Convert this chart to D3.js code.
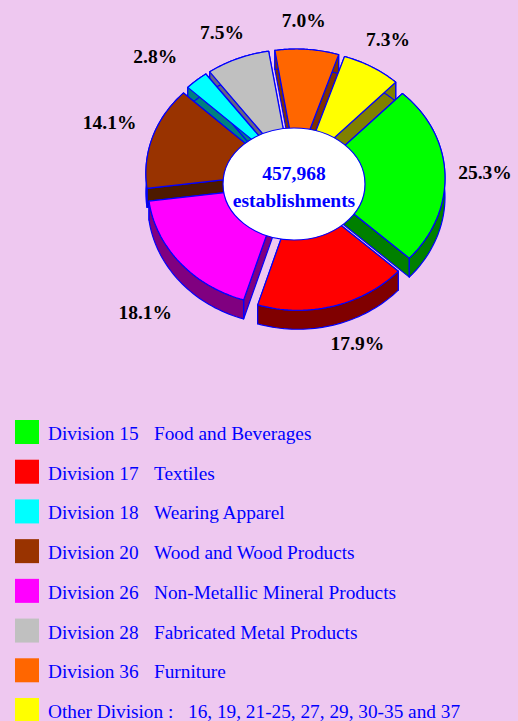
<!DOCTYPE html>
<html><head><meta charset="utf-8">
<script src="https://cdnjs.cloudflare.com/ajax/libs/d3/7.8.5/d3.min.js"></script>
<style>html,body{margin:0;padding:0;background:#eec8f0;overflow:hidden}svg{display:block}text{font-family:"Liberation Serif",serif}</style>
</head><body><script>
const slices = ["Food and Beverages","Textiles","Non-Metallic Mineral Products","Wood and Wood Products","Wearing Apparel","Fabricated Metal Products","Furniture","Other"];
const shares = [25.3,17.9,18.1,14.1,2.8,7.5,7.0,7.3];
const topColors = ["#00ff00","#ff0000","#ff00ff","#993300","#00ffff","#c0c0c0","#ff6600","#ffff00"];
const wallColors = ["#008000","#800000","#800080","#4d1a00","#008080","#666680","#803300","#808000"];
const legendCodes = ["Division 15","Division 17","Division 18","Division 20","Division 26","Division 28","Division 36","Other Division :"];
const legendNames = ["Food and Beverages","Textiles","Wearing Apparel","Wood and Wood Products","Non-Metallic Mineral Products","Fabricated Metal Products","Furniture","16, 19, 21-25, 27, 29, 30-35 and 37"];
const legendColors = ["#00ff00","#ff0000","#00ffff","#993300","#ff00ff","#c0c0c0","#ff6600","#ffff00"];
const centerLines = ["457,968","establishments"];

const W=518,H=721,BLUE="#0000ff";
const cx=295,cy=178,rx=136,ry=117.5,explode=14,depth=19,tilt=0.015;
const labelA=185,labelB=165;
const labelNudge=[[5,-5],[23,5],[-3,35],[-12,3],[-23,7],[-8,9],[-9,7],[-3,3]];
const svg=d3.select("body").append("svg").attr("width",W).attr("height",H);
svg.append("rect").attr("width",W).attr("height",H).attr("fill","#eec8f0");

const startDeg=44.4, start=startDeg*Math.PI/180;
const pie=d3.pie().sort(null).startAngle(start).endAngle(start+2*Math.PI);
const arcs=pie(shares);
const lineGen=d3.line().curve(d3.curveLinear);
// foreshortening of the tilted disc: angles drift slightly as seen on screen
const warp=d3.scaleLinear().domain([44.4,135,353,378,404.4]).range([-1,-3,-2,0,-1]);
const view=t=>t+warp(t*180/Math.PI)*Math.PI/180;
arcs.forEach((a,i)=>{a.i=i;a.mid=(a.startAngle+a.endAngle)/2;
  a.ox=cx+explode*Math.sin(a.mid);a.oy=cy-explode*Math.cos(a.mid)*ry/rx*1.1;});
const pt=(a,t,r=1,dz=0)=>{const v=view(t),c=Math.cos(v);
  return [a.ox+r*rx*Math.sin(v),a.oy-r*ry*c*(1-tilt*c)+dz];};
const rim=a=>d3.range(0,41).map(k=>a.startAngle+(a.endAngle-a.startAngle)*k/40);

const order=arcs.slice().sort((p,q)=>Math.cos(q.mid)-Math.cos(p.mid));
const g=svg.append("g");
order.forEach(a=>{
  const s=g.append("g");
  const R=rim(a);
  const c=[a.ox,a.oy];
  const faces=[
    [c,pt(a,a.startAngle),pt(a,a.startAngle,1,depth),[c[0],c[1]+depth]],
    [c,pt(a,a.endAngle),pt(a,a.endAngle,1,depth),[c[0],c[1]+depth]],
    [...R.map(t=>pt(a,t)),...R.slice().reverse().map(t=>pt(a,t,1,depth))]
  ];
  s.selectAll("path.w").data(faces).join("path").attr("class","w")
    .attr("d",d=>lineGen(d)+"Z").attr("fill",wallColors[a.i]).attr("stroke",BLUE).attr("stroke-width",1.2).attr("stroke-linejoin","round");
  s.append("path").attr("d",lineGen([c,...R.map(t=>pt(a,t))])+"Z")
    .attr("fill",topColors[a.i]).attr("stroke",BLUE).attr("stroke-width",1.2).attr("stroke-linejoin","round");
});

svg.append("ellipse").attr("cx",294).attr("cy",184).attr("rx",71).attr("ry",56)
  .attr("fill","#fff").attr("stroke",BLUE).attr("stroke-width",1.2);
svg.selectAll("text.c").data(centerLines).join("text").attr("class","c")
  .attr("x",294).attr("y",(d,i)=>180+i*27).attr("text-anchor","middle")
  .attr("font-size",19.5).attr("font-weight","bold").attr("fill",BLUE).text(d=>d);

svg.selectAll("text.p").data(arcs).join("text").attr("class","p")
  .attr("x",a=>cx+labelA*Math.sin(a.mid)+labelNudge[a.i][0])
  .attr("y",a=>cy-labelB*Math.cos(a.mid)+labelNudge[a.i][1]+6)
  .attr("text-anchor","middle").attr("font-size",19.5).attr("font-weight","bold").attr("fill","#000")
  .text(a=>shares[a.i].toFixed(1)+"%");

const rowY=d3.scaleLinear().domain([0,7]).range([432,710]);
const rows=svg.selectAll("g.l").data(legendCodes).join("g").attr("class","l");
rows.append("rect").attr("x",15).attr("y",(d,i)=>rowY(i)-12).attr("width",24).attr("height",24).attr("fill",(d,i)=>legendColors[i]);
rows.append("text").attr("x",48).attr("y",(d,i)=>rowY(i)+8).attr("font-size",19.3).attr("fill",BLUE).text(d=>d);
rows.append("text").attr("x",(d,i)=>i<7?154:188).attr("y",(d,i)=>rowY(i)+8).attr("font-size",19.3).attr("fill",BLUE).text((d,i)=>legendNames[i]);
</script></body></html>
